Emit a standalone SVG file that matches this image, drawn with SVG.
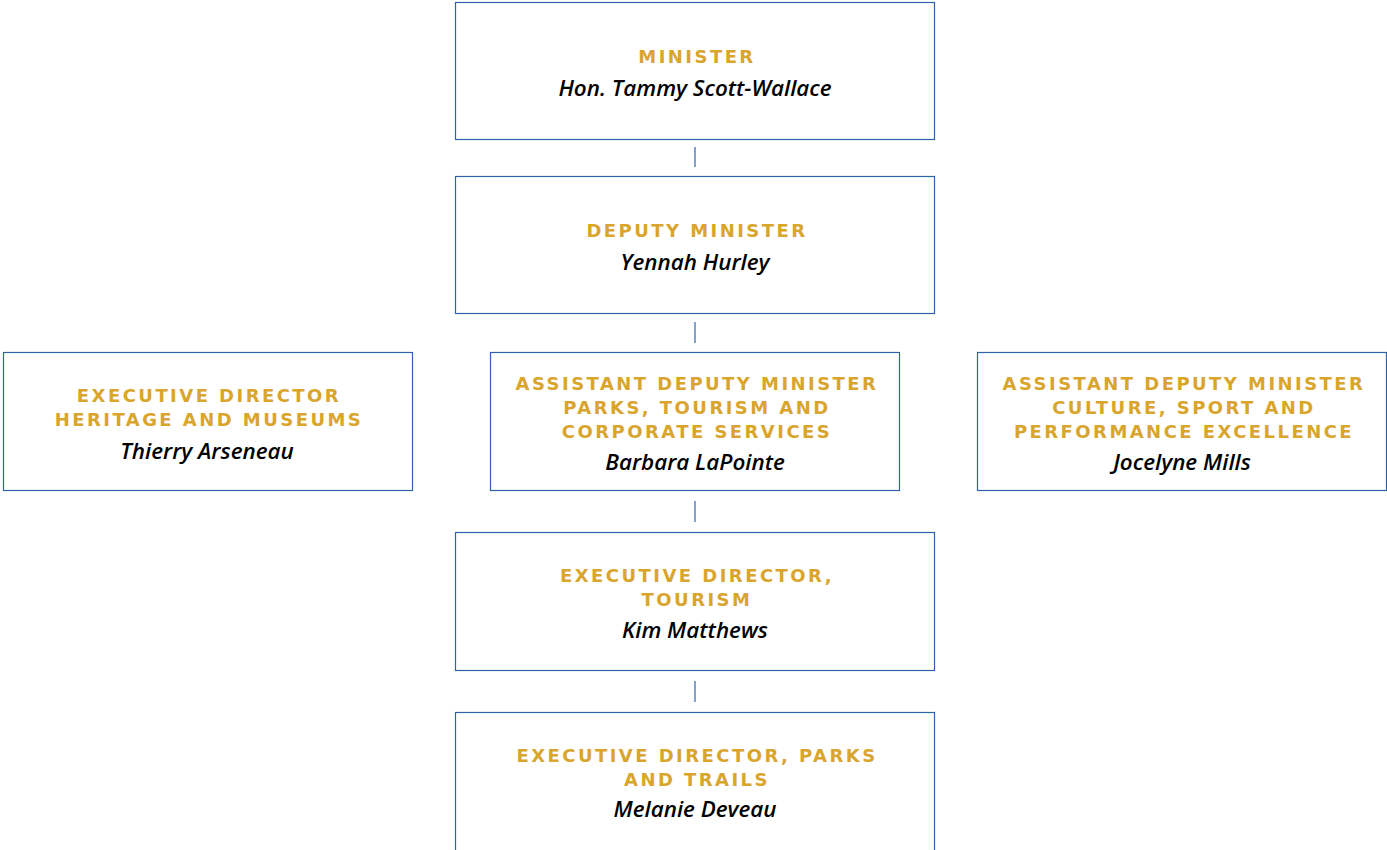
<svg xmlns="http://www.w3.org/2000/svg" width="1387" height="850" viewBox="0 0 1387 850">
<style>
.box{fill:#fff;stroke:#2F63A9;stroke-width:1.2}
.t{font-family:"DejaVu Sans","Open Sans",sans-serif;font-weight:700;font-size:18px;letter-spacing:2.45px;fill:#D9A52C;text-anchor:middle}
.n{font-family:"Open Sans","Liberation Sans",sans-serif;font-weight:600;font-style:italic;font-size:22.4px;fill:#000;text-anchor:middle}
.c{stroke:#2F63A9;stroke-width:1.2}
</style>
<rect width="1387" height="850" fill="#fff"/>
<g id="connectors">
<line class="c" x1="695" y1="147" x2="695" y2="167"/>
<line class="c" x1="695" y1="322" x2="695" y2="343"/>
<line class="c" x1="695" y1="501" x2="695" y2="522"/>
<line class="c" x1="695" y1="681" x2="695" y2="702"/>
</g>
<g id="minister">
<rect class="box" x="455.5" y="2.5" width="479" height="137"/>
<text class="t" x="697" y="63">MINISTER</text>
<text class="n" x="695" y="96">Hon. Tammy Scott-Wallace</text>
</g>
<g id="deputy">
<rect class="box" x="455.5" y="176.5" width="479" height="137"/>
<text class="t" x="697" y="237">DEPUTY MINISTER</text>
<text class="n" x="695" y="270">Yennah Hurley</text>
</g>
<g id="heritage">
<rect class="box" x="3.5" y="352.5" width="409" height="138"/>
<text class="t" x="209" y="402">EXECUTIVE DIRECTOR</text>
<text class="t" x="209" y="426">HERITAGE AND MUSEUMS</text>
<text class="n" x="207" y="459">Thierry Arseneau</text>
</g>
<g id="adm-parks">
<rect class="box" x="490.5" y="352.5" width="409" height="138"/>
<text class="t" x="697" y="390">ASSISTANT DEPUTY MINISTER</text>
<text class="t" x="697" y="414">PARKS, TOURISM AND</text>
<text class="t" x="697" y="438">CORPORATE SERVICES</text>
<text class="n" x="695" y="470">Barbara LaPointe</text>
</g>
<g id="adm-culture">
<rect class="box" x="977.5" y="352.5" width="409" height="138"/>
<text class="t" x="1184" y="390">ASSISTANT DEPUTY MINISTER</text>
<text class="t" x="1184" y="414">CULTURE, SPORT AND</text>
<text class="t" x="1184" y="438">PERFORMANCE EXCELLENCE</text>
<text class="n" x="1182" y="470">Jocelyne Mills</text>
</g>
<g id="ed-tourism">
<rect class="box" x="455.5" y="532.5" width="479" height="138"/>
<text class="t" x="697" y="582">EXECUTIVE DIRECTOR,</text>
<text class="t" x="697" y="606">TOURISM</text>
<text class="n" x="695" y="638">Kim Matthews</text>
</g>
<g id="ed-parks">
<rect class="box" x="455.5" y="712.5" width="479" height="140"/>
<text class="t" x="697" y="762">EXECUTIVE DIRECTOR, PARKS</text>
<text class="t" x="697" y="786">AND TRAILS</text>
<text class="n" x="695" y="817">Melanie Deveau</text>
</g>
</svg>
